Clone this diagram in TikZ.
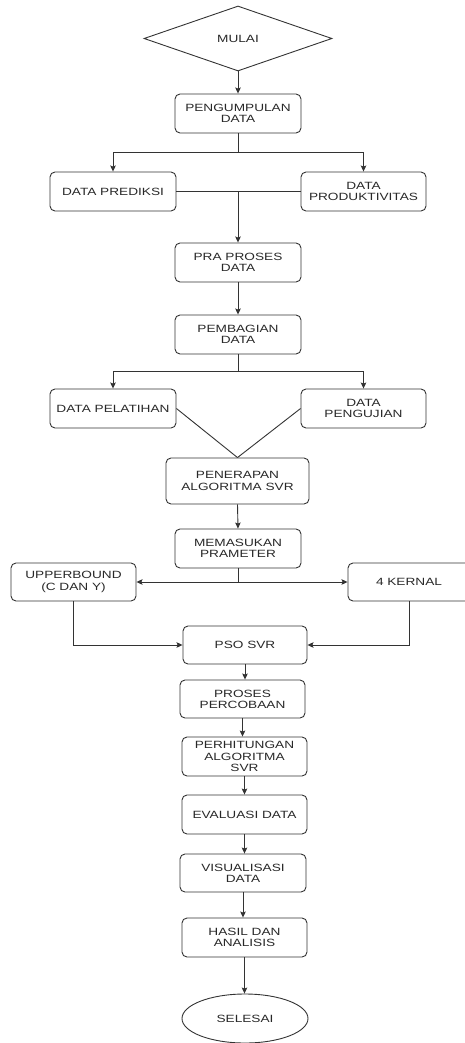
\documentclass[tikz,border=0pt]{standalone}
\usepackage{fontspec}
\setmainfont[FakeStretch=1.3]{Liberation Sans}
\usetikzlibrary{shapes.geometric,arrows.meta}

\tikzset{every picture/.style={line width=0.9pt}}
\tikzset{
  box/.style={draw={rgb, 255:red, 51; green, 51; blue, 51}, rounded corners=5pt, align=center, inner sep=1pt,
    minimum width=126pt, minimum height=39pt, text={rgb, 255:red, 40; green, 40; blue, 40},
    font=\fontsize{10.5}{11.2}\selectfont},
  link/.style={draw={rgb, 255:red, 51; green, 51; blue, 51}},
  arr/.style={link, -{Stealth[length=6pt,width=5.5pt,inset=1pt]}},
}

\begin{document}
\begin{tikzpicture}[x=1pt,y=1pt,yscale=-1]
	%set diagram left start at 0, and has height of 1043
	\path[use as bounding box] (0,0) rectangle (465,1043);

	% Start / end shapes
	\node[box, shape=diamond, rounded corners=0pt, aspect=2.9, minimum width=188pt, minimum height=65pt, inner sep=0pt] (mulai) at (238,38.5) {MULAI};
	\node[box, shape=ellipse, rounded corners=0pt, minimum width=126pt, minimum height=49pt] (selesai) at (245,1018.5) {SELESAI};

	% Process boxes
	\node[box] (pengumpulan) at (238,113.5) {PENGUMPULAN\\DATA};
	\node[box] (prediksi) at (113,191.5) {DATA PREDIKSI};
	\node[box, minimum width=125pt] (produktivitas) at (363.5,191.5) {DATA\\PRODUKTIVITAS};
	\node[box] (praproses) at (238,262.5) {PRA PROSES\\DATA};
	\node[box] (pembagian) at (238,334.5) {PEMBAGIAN\\DATA};
	\node[box] (pelatihan) at (113,408.5) {DATA PELATIHAN};
	\node[box, minimum width=125pt] (pengujian) at (363.5,408.5) {DATA\\PENGUJIAN};
	\node[box, minimum width=143pt, minimum height=46pt] (penerapan) at (237.5,481) {PENERAPAN\\ALGORITMA SVR};
	\node[box] (memasukan) at (238,548.5) {MEMASUKAN\\PRAMETER};
	\node[box, minimum width=125pt, minimum height=38pt] (upperbound) at (73.5,582) {UPPERBOUND\\(C DAN Y)};
	\node[box, minimum width=122pt, minimum height=38pt] (kernal) at (409,582) {4 KERNAL};
	\node[box, minimum width=124pt, minimum height=38pt] (pso) at (245,645) {PSO SVR};
	\node[box, minimum width=125pt, minimum height=38pt] (percobaan) at (242.5,699) {PROSES\\PERCOBAAN};
	\node[box, minimum width=125pt] (perhitungan) at (244.5,756.5) {PERHITUNGAN\\ALGORITMA\\SVR};
	\node[box, minimum width=125pt] (evaluasi) at (244.5,814.5) {EVALUASI DATA};
	\node[box, minimum height=38pt] (visualisasi) at (243,873) {VISUALISASI\\DATA};
	\node[box, minimum width=125pt] (hasil) at (244.5,937.5) {HASIL DAN\\ANALISIS};

	% Branch points
	\coordinate (split1) at (238,152);
	\coordinate (split2) at (238,371.5);
	\coordinate (split3) at (238,582);
	\coordinate (merge1) at (praproses.north |- prediksi.east);

	%Straight Lines
	\draw[arr] (mulai.south) -- (pengumpulan.north);
	\draw[link] (pengumpulan.south) -- (split1);
	\draw[arr] (split1) -| (prediksi.north);
	\draw[arr] (split1) -| (produktivitas.north);
	\draw[link] (prediksi.east) -- (produktivitas.west);
	\draw[arr] (merge1) -- (praproses.north);
	\draw[arr] (praproses.south) -- (pembagian.north);
	\draw[link] (pembagian.south) -- (split2);
	\draw[arr] (split2) -| (pelatihan.north);
	\draw[arr] (split2) -| (pengujian.north);
	\draw[link] (pelatihan.east) -- (penerapan.north);
	\draw[link] (pengujian.west) -- (penerapan.north);
	\draw[arr] (penerapan.south) -- (memasukan.north);
	\draw[link] (memasukan.south) -- (split3);
	\draw[arr] (split3) -- (upperbound.east);
	\draw[arr] (split3) -- (kernal.west);
	\draw[arr] (upperbound.south) |- (pso.west);
	\draw[arr] (kernal.south) |- (pso.east);
	\draw[arr] (pso.south) -- (pso.south |- percobaan.north);
	\draw[arr] (percobaan.south) -- (percobaan.south |- perhitungan.north);
	\draw[arr] (perhitungan.south) -- (perhitungan.south |- evaluasi.north);
	\draw[arr] (evaluasi.south) -- (evaluasi.south |- visualisasi.north);
	\draw[arr] (visualisasi.south) -- (visualisasi.south |- hasil.north);
	\draw[arr] (hasil.south) -- (hasil.south |- selesai.north);

\end{tikzpicture}
\end{document}
